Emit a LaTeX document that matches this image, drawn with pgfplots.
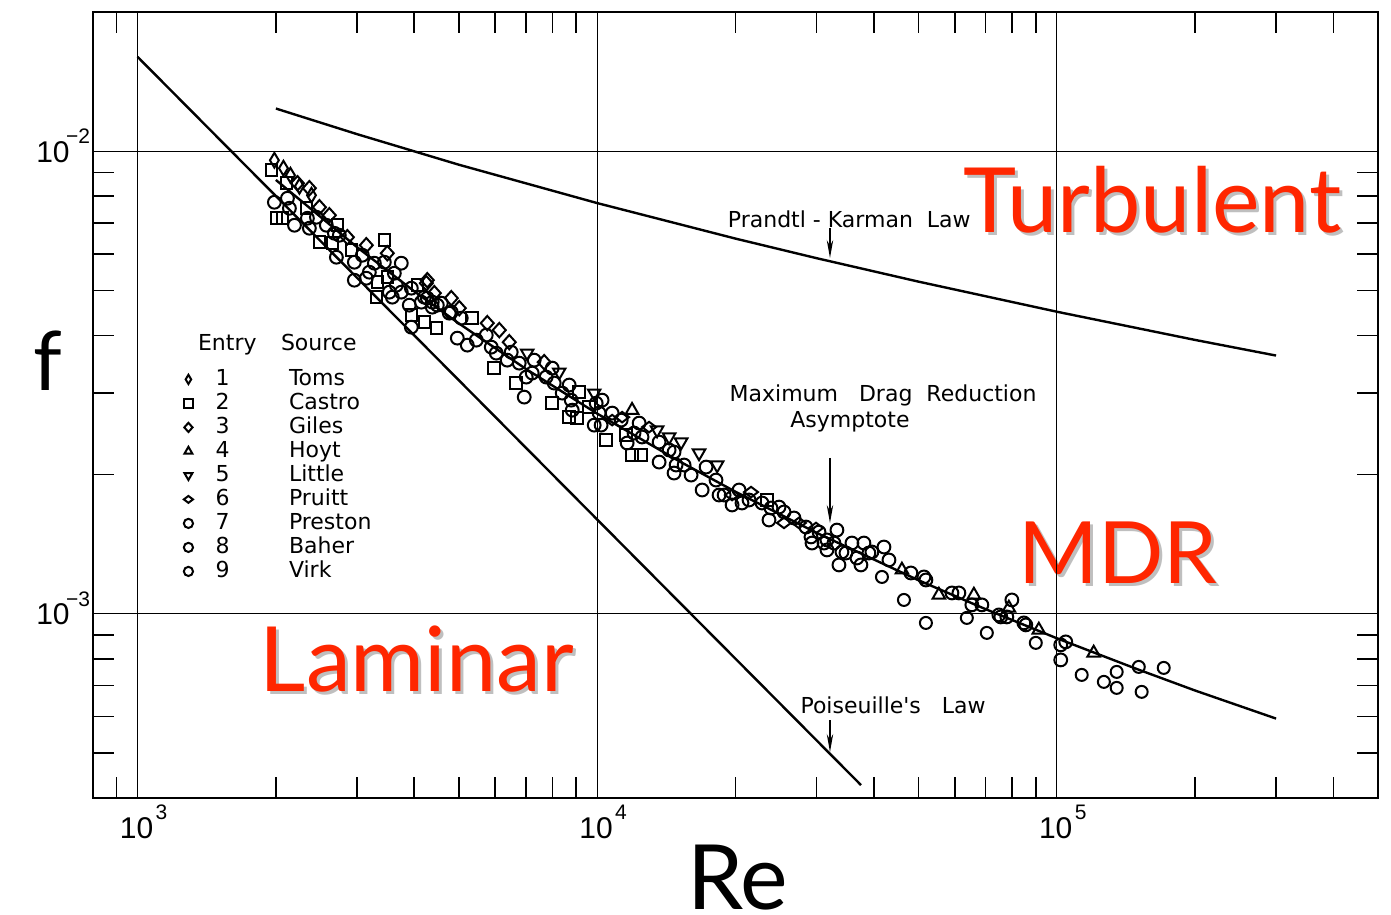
\documentclass[border=0pt]{standalone}
\usepackage{fontspec}
\setmainfont{Liberation Sans}
\newfontfamily\dejavu{DejaVu Sans}
\newfontfamily\lato{Lato}
\usepackage{pgfplots}
\pgfplotsset{compat=1.18}
\usetikzlibrary{arrows.meta}
\definecolor{labred}{RGB}{255,38,0}
\newcommand{\tpow}[1]{10\kern1.2bp\raisebox{0.62em}{\fontsize{10.5bp}{10.5bp}\selectfont #1}}
\newcommand{\tpowm}[1]{10\kern-0.12em\raisebox{0.62em}{\fontsize{10.5bp}{10.5bp}\selectfont #1}}
\begin{document}
\begin{tikzpicture}
\path[use as bounding box] (0,0) rectangle (695.5bp,457.5bp);
\begin{axis}[
  at={(46.5bp,58.5bp)}, anchor=south west,
  scale only axis, width=642.5bp, height=393bp,
  xmode=log, ymode=log,
  xmin=800, xmax=5e5, ymin=4e-4, ymax=0.02,
  axis on top,
  axis line style={line width=1bp},
  xtick={1e3,1e4,1e5},
  xticklabels={\tpow{3},\tpow{4},\tpow{5}},
  ytick={1e-3,1e-2},
  yticklabels={\tpowm{−3},\tpowm{−2}},
  minor xtick={900,2000,3000,4000,5000,6000,7000,8000,9000,20000,30000,40000,50000,60000,70000,80000,90000,200000,300000,400000},
  minor ytick={5e-4,6e-4,7e-4,8e-4,9e-4,2e-3,3e-3,4e-3,5e-3,6e-3,7e-3,8e-3,9e-3},
  grid=major, major grid style={black, line width=0.5bp},
  major tick length=0pt, minor tick length=10.5bp,
  minor tick style={line width=0.8bp, black},
  tick align=inside,
  ticklabel style={font=\fontsize{15bp}{15bp}\selectfont},
  xticklabel style={xshift=3bp},
  yticklabel style={anchor=base east, yshift=-5.4bp, xshift=2bp},
  xlabel={Re}, ylabel={f},
  every axis x label/.style={at={(axis description cs:0.5016,-0.1415)}, anchor=base, inner sep=0pt, font=\lato\fontsize{45bp}{45bp}\selectfont},
  every axis y label/.style={at={(axis description cs:-0.035,0.519)}, anchor=base, inner sep=0pt, font=\lato\fontsize{41bp}{41bp}\selectfont},
  legend style={at={(rel axis cs:0.0607,0.5929)}, anchor=north west, draw=none, fill=none, inner sep=0pt,
     row sep=0pt, font=\dejavu\fontsize{11bp}{11bp}\selectfont,
     nodes={text height=8.5bp, text depth=2.5bp, inner sep=0.5bp},
     /tikz/every odd column/.append style={column sep=9bp}},
  legend cell align=left,
  legend image post style={mark size=2.3bp},
]
% ---- theory lines ----
\addplot[forget plot, black, line width=1.2bp] coordinates {(1000,0.016) (37500,0.0004267)};
\addplot[forget plot, black, line width=1.2bp] coordinates {
 (2000,0.01237) (3000,0.010893) (5000,0.009353) (10000,0.007728) (20000,0.006475)
 (30000,0.005875) (50000,0.005227) (100000,0.004500) (200000,0.003911) (300000,0.003618)};
\addplot[forget plot, black, line width=1.2bp] coordinates {
 (2000,0.00867) (3000,0.00621) (4000,0.00498) (5000,0.004246) (7000,0.003384)
 (10000,0.00271) (15000,0.002145) (20000,0.001837) (30000,0.0014977) (50000,0.0011826)
 (70000,0.001024) (100000,0.000886) (150000,0.000759) (200000,0.000683) (300000,0.000594)};
% ---- legend header ----
\addlegendimage{empty legend}
\addlegendentry[text depth=8bp]{\hspace*{-7bp}\makebox[41.5bp][l]{Entry}Source}
% ---- data ----
\addplot[only marks, black, mark=diamond, mark size=3.7bp, mark options={solid, line width=1bp, xscale=0.8}] coordinates {
 (1985,0.009562) (2077,0.009190) (2151,0.008876) (2250,0.008404) (2390,0.008035)};
\addlegendentry{\makebox[38.5bp][l]{\,1}Toms}
\addplot[only marks, black, mark=square, mark size=2.9bp, mark options={solid, line width=1bp}] coordinates {
 (1956,0.009099) (2108,0.008530) (2005,0.007166) (2066,0.007166) (2330,0.007531) (2722,0.006921)
 (2487,0.006360) (2654,0.006328) (2919,0.006111) (3443,0.006424) (3324,0.005212) (3495,0.005343)
 (3308,0.004838) (4062,0.005135) (3942,0.004424) (4467,0.004147) (5349,0.004358) (4207,0.004272)
 (5972,0.003399) (6667,0.003155) (7984,0.002855) (9139,0.003016) (8692,0.002663) (9048,0.002650)
 (9608,0.002799) (10460,0.002376) (11560,0.002436) (11910,0.002205) (12460,0.002205) (23420,0.001763)};
\addlegendentry{\makebox[38.5bp][l]{\,2}Castro}
\addplot[only marks, black, mark=diamond, mark size=3.6bp, mark options={solid, line width=1bp, xscale=1.2}] coordinates {
 (2228,0.008530) (2365,0.008321) (2487,0.007569) (2614,0.007274) (2861,0.006520) (3146,0.006265)
 (3495,0.006020) (4270,0.005264) (4423,0.004935) (4815,0.004814) (5012,0.004580) (4250,0.005186)
 (5766,0.004251) (6124,0.004106) (6438,0.003868) (7670,0.003501)};
\addlegendentry{\makebox[38.5bp][l]{\,3}Giles}
\addplot[only marks, black, mark=triangle, mark size=3.6bp, mark options={solid, line width=1bp}] coordinates {
 (11910,0.002757) (46030,0.001245) (55400,0.001099) (66020,0.001099) (78670,0.001030)
 (91400,0.0009235) (120300,0.0008236)};
\addlegendentry{\makebox[38.5bp][l]{\,4}Hoyt}
\addplot[only marks, black, mark=triangle, mark size=3.6bp, mark options={solid, line width=1bp, rotate=180}] coordinates {
 (7044,0.003662) (8269,0.003332) (9852,0.003001) (13500,0.002497) (14340,0.002412)
 (15230,0.002352) (16660,0.002227) (18240,0.002098)};
\addlegendentry{\makebox[38.5bp][l]{\,5}Little}
\addplot[only marks, black, mark=diamond, mark size=3.5bp, mark options={solid, line width=1bp, rotate=90}] coordinates {
 (10780,0.002624) (11330,0.002663) (12970,0.002534) (19660,0.001807) (21620,0.001834)
 (25500,0.001573) (27480,0.001573) (29930,0.001534)};
\addlegendentry{\makebox[38.5bp][l]{\,6}Pruitt}
\addplot[only marks, black, mark=o, mark size=3.2bp, mark options={solid, line width=1bp}] coordinates {
 (1985,0.007760) (2140,0.007531) (2195,0.006921) (2365,0.006819) (2119,0.007916) (2342,0.007166)
 (2450,0.007202) (2575,0.006921) (2681,0.006650) (2748,0.006585) (2708,0.005902) (3084,0.005961)
 (2963,0.005757) (3275,0.005729) (3443,0.005757) (3749,0.005729) (2963,0.005264) (3146,0.005316)
 (3194,0.005478) (3620,0.005450) (3656,0.005135) (3530,0.004960) (3584,0.004838) (3749,0.004960)
 (3942,0.005059) (3902,0.004649) (4144,0.004719) (4270,0.004814) (4378,0.004603) (4581,0.004696)
 (4815,0.004490) (5062,0.004358) (3942,0.004167) (4963,0.003946) (4207,0.004838) (4378,0.004719)
 (4490,0.004649) (4767,0.004468) (5217,0.003811) (5458,0.003907) (5737,0.004005) (5883,0.003773)
 (6032,0.003662) (6502,0.003680) (6373,0.003536) (6767,0.003484) (7295,0.003536) (7984,0.003399)
 (7010,0.003250) (7223,0.003316) (6939,0.002942) (7746,0.003250) (8063,0.003155) (8393,0.003001)
 (8692,0.003124) (8781,0.002898) (8826,0.002757)};
\addlegendentry{\makebox[38.5bp][l]{\,7}Preston}
\addplot[only marks, black, mark=o, mark size=3.2bp, mark options={solid, line width=1bp}] coordinates {
 (9950,0.002855) (10250,0.002898) (10100,0.002717) (9852,0.002559) (10200,0.002559) (10780,0.002717)
 (11280,0.002624) (12030,0.002460) (11620,0.002341) (12520,0.002412) (12340,0.002585) (13640,0.002352)
 (13640,0.002129) (14340,0.002261) (14700,0.002238) (14700,0.002016) (14850,0.002098) (15460,0.002098)
 (16010,0.001996) (17260,0.002077) (18140,0.001947) (16920,0.001853) (18420,0.001807) (18890,0.001807)
 (19660,0.001720) (20360,0.001853) (20660,0.001737) (21400,0.001763) (22840,0.001737) (23890,0.001694)
 (24870,0.001702) (23650,0.001596) (25500,0.001661) (26810,0.001612) (28470,0.001541) (30390,0.001503)
 (29190,0.001467) (29340,0.001423) (31620,0.001445) (33240,0.001518) (32750,0.001423) (34780,0.001354)
 (35840,0.001423) (38060,0.001423) (36750,0.001321) (39020,0.001354) (42070,0.001395) (43140,0.001308)
 (31160,0.001423) (31620,0.001375) (34090,0.001361) (37490,0.001276) (33580,0.001276) (39610,0.001361)
 (48150,0.001226) (51400,0.001202) (51910,0.001184) (59140,0.001110) (61240,0.001110) (65350,0.001046)
 (68710,0.001046) (74830,0.0009950) (75570,0.0009852) (77880,0.0009852) (79860,0.001072)
 (84800,0.0009562) (85640,0.0009468) (102000,0.0008572) (104600,0.0008701) (102000,0.0007955)};
\addlegendentry{\makebox[38.5bp][l]{\,8}Baher}
\addplot[only marks, black, mark=o, mark size=3.0bp, mark options={solid, line width=1bp}] coordinates {
 (41650,0.001202) (46500,0.001072) (51910,0.0009562) (63730,0.0009803) (70440,0.0009099)
 (90020,0.0008658) (113300,0.0007383) (126600,0.0007131) (135000,0.0006921) (135000,0.0007494)
 (150800,0.0007683) (153000,0.0006785) (170900,0.0007645)};
\addlegendentry{\makebox[38.5bp][l]{\,9}Virk}
% ---- annotations ----
\node[font=\dejavu\fontsize{11bp}{11bp}\selectfont, inner sep=0pt] at (rel axis cs:0.5885,0.7366) {Prandtl - Karman\ \ Law};
\draw[line width=0.8bp, -{Stealth[length=9bp, width=3.2bp]}] (rel axis cs:0.5735,0.7252) -- (rel axis cs:0.5735,0.6870);
\node[font=\dejavu\fontsize{11bp}{11bp}\selectfont] at (rel axis cs:0.6148,0.5127) {Maximum\ \ \ Drag\ \ Reduction};
\node[font=\dejavu\fontsize{11bp}{11bp}\selectfont] at (rel axis cs:0.5891,0.4784) {Asymptote};
\draw[line width=0.8bp, -{Stealth[length=9bp, width=3.2bp]}] (rel axis cs:0.5735,0.4326) -- (rel axis cs:0.5735,0.3499);
\node[font=\dejavu\fontsize{11bp}{11bp}\selectfont] at (rel axis cs:0.6226,0.1183) {Poiseuille's\ \ \ Law};
\draw[line width=0.8bp, -{Stealth[length=9bp, width=3.2bp]}] (rel axis cs:0.5735,0.0992) -- (rel axis cs:0.5735,0.0585);
% ---- red region labels with shadow ----
\node[anchor=base, inner sep=0pt, font=\lato\fontsize{45bp}{45bp}\selectfont, text=black, opacity=0.25, xshift=1.5bp, yshift=-1.5bp] at (rel axis cs:0.8245,0.7201) {Turbulent};
\node[anchor=base, inner sep=0pt, font=\lato\fontsize{45bp}{45bp}\selectfont, text=labred] at (rel axis cs:0.8245,0.7201) {Turbulent};
\node[anchor=base, inner sep=0pt, font=\lato\fontsize{43bp}{43bp}\selectfont, text=black, opacity=0.25, xshift=1.5bp, yshift=-1.5bp] at (rel axis cs:0.7977,0.2735) {MDR};
\node[anchor=base, inner sep=0pt, font=\lato\fontsize{43bp}{43bp}\selectfont, text=labred] at (rel axis cs:0.7977,0.2735) {MDR};
\node[anchor=base, inner sep=0pt, font=\lato\fontsize{45bp}{45bp}\selectfont, text=black, opacity=0.25, xshift=1.5bp, yshift=-1.5bp] at (rel axis cs:0.2521,0.1349) {Laminar};
\node[anchor=base, inner sep=0pt, font=\lato\fontsize{45bp}{45bp}\selectfont, text=labred] at (rel axis cs:0.2521,0.1349) {Laminar};
\end{axis}
\end{tikzpicture}
\end{document}
